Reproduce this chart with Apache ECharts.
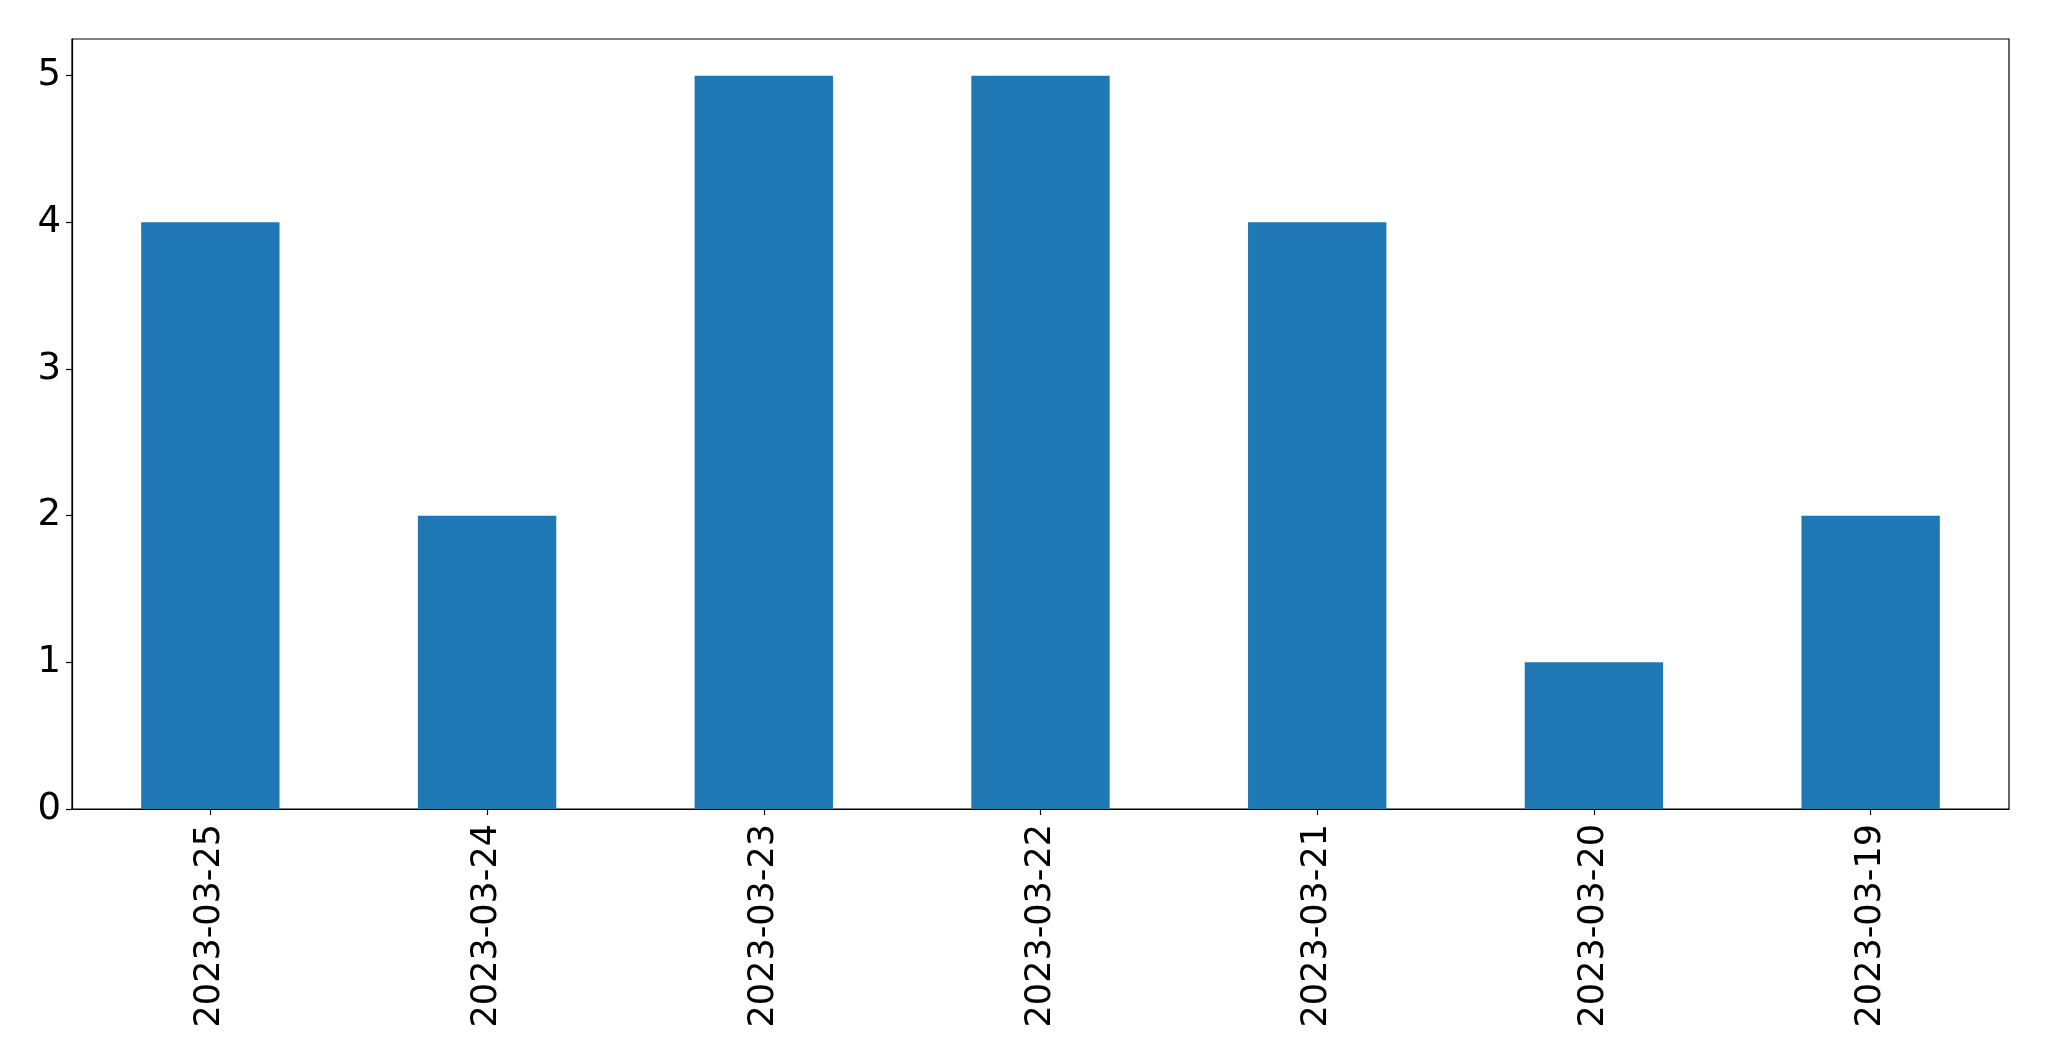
<!DOCTYPE html>
<html>
<head>
<meta charset="utf-8">
<script src="https://cdn.jsdelivr.net/npm/echarts@6/dist/echarts.min.js"></script>
<style>
html,body{margin:0;padding:0;background:#fff;}
#chart{width:2049px;height:1061px;}
</style>
</head>
<body>
<div id="chart"></div>
<script>
const categories = ['2023-03-25','2023-03-24','2023-03-23','2023-03-22','2023-03-21','2023-03-20','2023-03-19'];
const values = [4, 2, 5, 5, 4, 1, 2];
const yTicks = [0, 1, 2, 3, 4, 5];

const chart = echarts.init(document.getElementById('chart'), null, {renderer: 'canvas'});
const font = 'DejaVu Sans';
chart.setOption({
  animation: false,
  backgroundColor: '#ffffff',
  grid: {
    left: 72, right: 40, top: 39, bottom: 252,
    show: true, borderColor: '#000', borderWidth: 1.2, backgroundColor: 'transparent'
  },
  xAxis: {
    type: 'category',
    data: categories,
    boundaryGap: true,
    axisLine: {show: true, lineStyle: {color: '#000', width: 1.2}},
    axisTick: {show: true, alignWithLabel: true, length: 6, lineStyle: {color: '#000', width: 1.2}},
    axisLabel: {rotate: 90, margin: 15, fontSize: 35, fontFamily: font, color: '#000', interval: 0},
    splitLine: {show: false}
  },
  yAxis: {
    type: 'value',
    min: 0, max: 5.25, interval: 1,
    axisLine: {show: true, lineStyle: {color: '#000', width: 1.2}},
    axisTick: {show: true, length: 6, lineStyle: {color: '#000', width: 1.2}},
    axisLabel: {
      margin: 11, fontSize: 37, fontFamily: font, color: '#000', showMaxLabel: false,
      formatter: v => yTicks.includes(v) ? String(v) : ''
    },
    splitLine: {show: false}
  },
  series: [{
    type: 'bar',
    data: values,
    barWidth: '50%',
    itemStyle: {color: '#1f77b4'}
  }]
});
</script>
</body>
</html>
